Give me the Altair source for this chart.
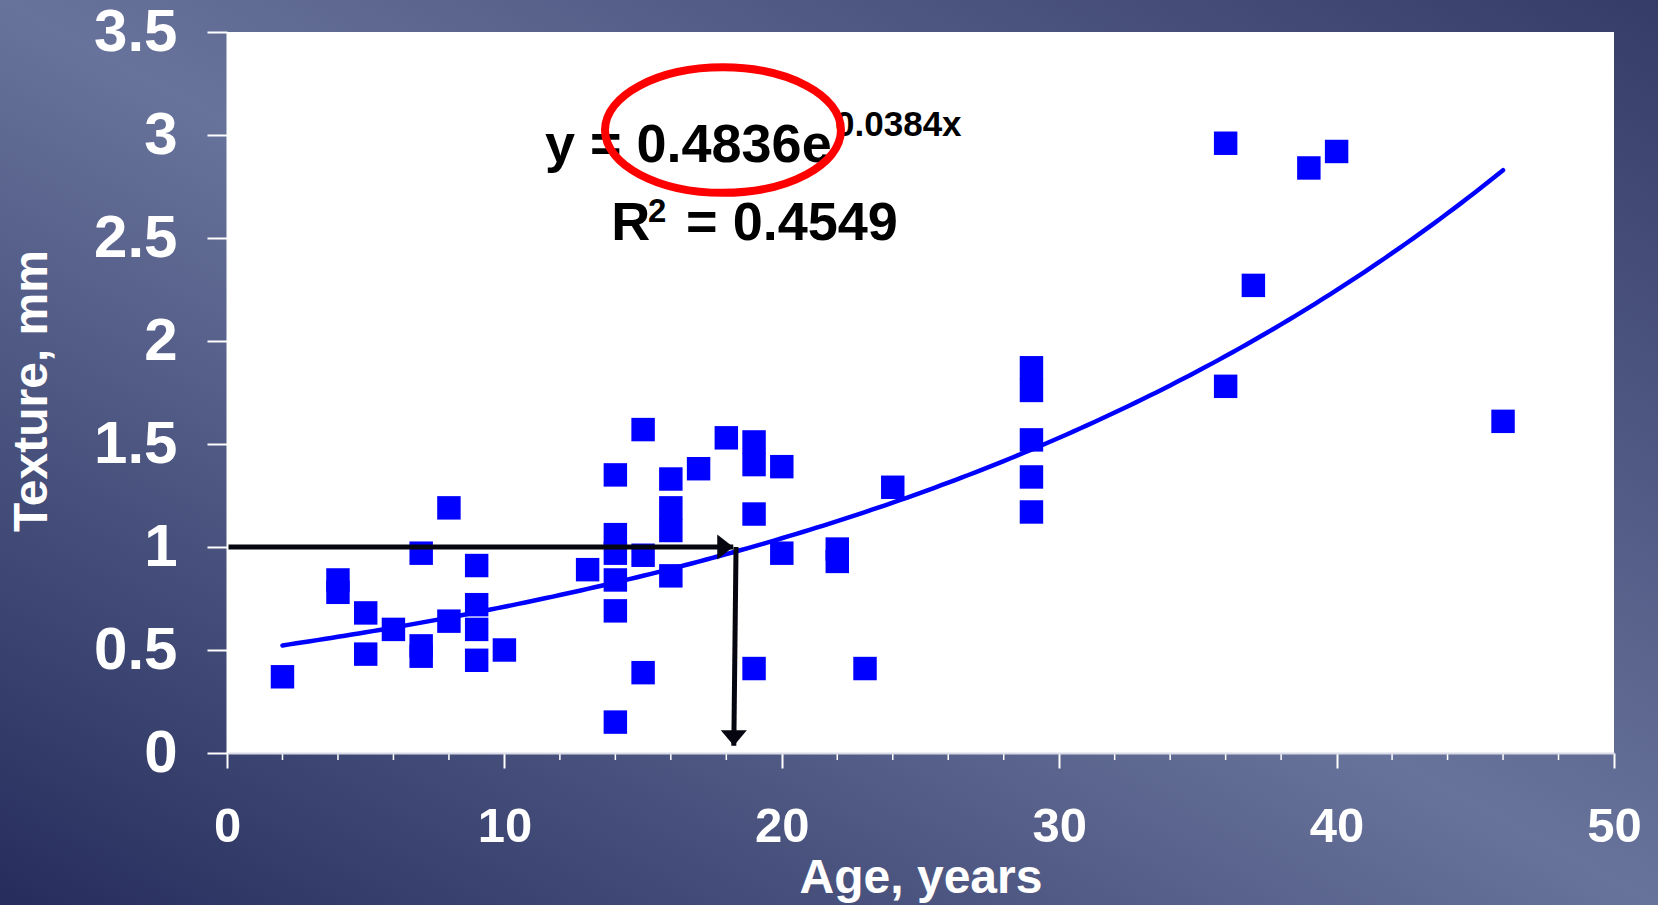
import altair as alt
import pandas as pd

# Canvas and plot-area geometry (pixels)
CANVAS_W, CANVAS_H = 1658, 905
LEFT, TOP = 227, 32
W, H = 1387, 721
FONT = "Liberation Sans"

# Measurements: age (years) vs. texture depth (mm)
age = [2, 4, 4, 5, 5, 6, 7, 7, 7, 8, 8, 9, 9, 9, 9, 10, 13,
       14, 14, 14, 14, 14, 14, 15, 15, 15, 16, 16, 16, 16, 17, 18,
       19, 19, 19, 19, 20, 20, 22, 22, 23, 24,
       29, 29, 29, 29, 29, 36, 36, 37, 39, 40, 46]
texture = [0.37, 0.84, 0.78, 0.68, 0.48, 0.60, 0.97, 0.52, 0.47, 1.19, 0.64,
           0.91, 0.72, 0.60, 0.45, 0.50, 0.89,
           1.35, 1.06, 0.97, 0.84, 0.69, 0.15, 1.57, 0.96, 0.39,
           1.33, 1.19, 1.08, 0.86, 1.38, 1.53,
           1.51, 1.40, 1.16, 0.41, 1.39, 0.97, 0.99, 0.93, 0.41, 1.29,
           1.87, 1.76, 1.52, 1.34, 1.17, 2.96, 1.78, 2.27, 2.84, 2.92, 1.61]

# Exponential trend y = A * exp(B * x)
FIT_A, FIT_B = 0.4836, 0.0384
FIT_X_START, FIT_X_END = 2, 46

# Axis ticks
x_ticks = [0, 10, 20, 30, 40, 50]
x_minor = [2, 4, 6, 8, 12, 14, 16, 18, 22, 24, 26, 28, 32, 34, 36, 38, 42, 44, 46, 48]
y_ticks = [0, 0.5, 1, 1.5, 2, 2.5, 3, 3.5]

# Reading arrows: line segments (start -> tip)
arrow_x = [0.0, 18.35]
arrow_y = [1.0, 1.0]
arrow_x2 = [18.25, 18.27]
arrow_y2 = [1.0, 0.035]

# Equation annotation pieces: text, anchor (data units), font size
eq_text = ["y = 0.4836e", "0.0384x", "R", "2", "= 0.4549"]
eq_x = [11.46, 21.92, 13.85, 15.18, 16.55]
eq_y = [2.869, 2.995, 2.490, 2.578, 2.490]
eq_size = [54, 35, 54, 33, 54]

# Highlight ellipse around the coefficient
ring_x, ring_y = [17.88], [3.024]

xs = alt.Scale(domain=[0, 50], nice=False, zero=False)
ys = alt.Scale(domain=[0, 3.5], nice=False, zero=False)

x_axis = alt.Axis(
    values=x_ticks, title="Age, years", grid=False, zindex=1,
    domainColor="#d9dce8", domainWidth=2,
    tickColor="white", tickWidth=2, tickSize=15,
    labelColor="white", labelFont=FONT, labelFontSize=49, labelFontWeight="bold",
    labelBaseline="alphabetic", labelPadding=73, labelFlush=False, labelOverlap=False,
    titleColor="white", titleFont=FONT, titleFontSize=48, titleFontWeight="bold",
    titleBaseline="alphabetic", titleAlign="center", titleX=W / 2, titleY=139,
)
y_axis = alt.Axis(
    values=y_ticks, format="~g", title="Texture, mm", grid=False, zindex=1,
    domainColor="white", domainWidth=2,
    tickColor="white", tickWidth=2, tickSize=20,
    labelColor="white", labelFont=FONT, labelFontSize=60, labelFontWeight="bold",
    labelPadding=30, labelFlush=False, labelOverlap=False,
    titleColor="white", titleFont=FONT, titleFontSize=48, titleFontWeight="bold",
    titleAngle=270, titleBaseline="middle", titleAlign="center",
    titleX=-195, titleY=H / 2 - 2,
)


def X(field="age"):
    return alt.X(f"{field}:Q", scale=xs, axis=x_axis)


def Y(field="texture"):
    return alt.Y(f"{field}:Q", scale=ys, axis=y_axis)


one = alt.Data(values=[{"k": 1}])

backdrop = alt.Chart(one).mark_rect(
    color=alt.LinearGradient(
        gradient="linear", x1=0, y1=1, x2=1, y2=0,
        stops=[
            alt.GradientStop(color="#262d5c", offset=0),
            alt.GradientStop(color="#68739b", offset=0.5),
            alt.GradientStop(color="#353c68", offset=1),
        ],
    )
).encode(
    x=alt.value(-LEFT), x2=alt.value(CANVAS_W - LEFT),
    y=alt.value(-TOP), y2=alt.value(CANVAS_H - TOP),
)

plot_bg = alt.Chart(one).mark_rect(color="white").encode(
    x=alt.value(0), x2=alt.value(W), y=alt.value(0), y2=alt.value(H)
)

minor = alt.Chart(pd.DataFrame({"age": x_minor})).mark_rule(
    color="white", strokeWidth=1.5
).encode(x=X(), y=alt.value(H), y2=alt.value(H + 7))

points = alt.Chart(pd.DataFrame({"age": age, "texture": texture})).mark_square(
    size=550, color="#0000ff", opacity=1
).encode(x=X(), y=Y())

trend = alt.Chart(alt.sequence(FIT_X_START, FIT_X_END + 0.01, 0.25, as_="age")).transform_calculate(
    texture=f"{FIT_A} * exp({FIT_B} * datum.age)"
).mark_line(color="#0000ff", strokeWidth=4.5, strokeCap="round").encode(x=X(), y=Y())

arrow_df = pd.DataFrame({"age": arrow_x, "texture": arrow_y, "age2": arrow_x2, "texture2": arrow_y2})
arrow_lines = alt.Chart(arrow_df).mark_rule(color="#05060f", strokeWidth=5).encode(
    x=X(), y=Y(), x2="age2:Q", y2="texture2:Q"
)

HEAD_RIGHT = "M -1.28 -1 L 0 0 L -1.28 1 Z"
HEAD_DOWN = "M -1 -1.2 L 0 0 L 1 -1.2 Z"
head_right = alt.Chart(pd.DataFrame({"age": arrow_x2[:1], "texture": arrow_y2[:1]})).mark_point(
    shape=HEAD_RIGHT, size=625, filled=True, color="#05060f", opacity=1, strokeWidth=0
).encode(x=X(), y=Y())
head_down = alt.Chart(pd.DataFrame({"age": arrow_x2[1:], "texture": arrow_y2[1:]})).mark_point(
    shape=HEAD_DOWN, size=676, filled=True, color="#05060f", opacity=1, strokeWidth=0
).encode(x=X(), y=Y())

k = 0.5523
ry = 0.532
c = k * ry
ELLIPSE = (
    f"M -1 0 C -1 {-c:.4f} {-k} {-ry} 0 {-ry} C {k} {-ry} 1 {-c:.4f} 1 0 "
    f"C 1 {c:.4f} {k} {ry} 0 {ry} C {-k} {ry} -1 {c:.4f} -1 0 Z"
)
ring = alt.Chart(pd.DataFrame({"age": ring_x, "texture": ring_y})).mark_point(
    shape=ELLIPSE, size=236 * 236, filled=False, color="#ff0000", strokeWidth=8, opacity=1
).encode(x=X(), y=Y())

labels = alt.Chart(pd.DataFrame({"age": eq_x, "texture": eq_y, "label": eq_text, "fs": eq_size})).mark_text(
    align="left", baseline="alphabetic", font=FONT, fontWeight="bold", color="black"
).encode(x=X(), y=Y(), text="label:N", size=alt.Size("fs:Q", scale=None, legend=None))

chart = alt.layer(
    backdrop, plot_bg, minor, points, trend, labels, ring, arrow_lines, head_right, head_down
).properties(
    width=W, height=H, padding=0, background="#4b5582"
).configure_view(stroke=None)

chart.save("out.html", embed_options={"renderer": "svg", "actions": False})
